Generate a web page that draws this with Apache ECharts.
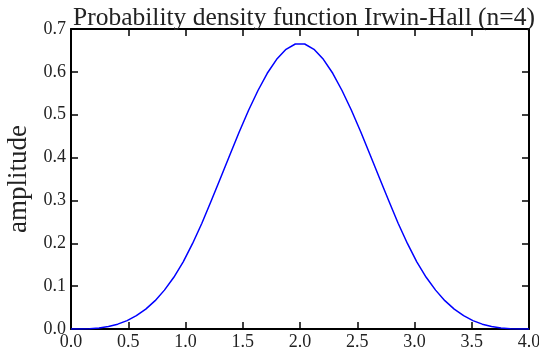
<!DOCTYPE html>
<html>
<head>
<meta charset="utf-8">
<script src="https://cdn.jsdelivr.net/npm/echarts@6/dist/echarts.min.js"></script>
<style>html,body{margin:0;padding:0;background:#fff}#c{width:539px;height:361px}</style>
</head>
<body>
<div id="c"></div>
<script>
var xValues = [0, 0.082, 0.163, 0.245, 0.327, 0.408, 0.490, 0.571, 0.653, 0.735, 0.816, 0.898, 0.980,
  1.061, 1.143, 1.224, 1.306, 1.388, 1.469, 1.551, 1.633, 1.714, 1.796, 1.878, 1.959,
  2.041, 2.122, 2.204, 2.286, 2.367, 2.449, 2.531, 2.612, 2.694, 2.776, 2.857, 2.939,
  3.020, 3.102, 3.184, 3.265, 3.347, 3.429, 3.510, 3.592, 3.673, 3.755, 3.837, 3.918, 4.0];
var amplitude = [0, 0.0001, 0.0007, 0.0024, 0.0058, 0.0113, 0.0196, 0.0311, 0.0464, 0.0661, 0.0907, 0.1207, 0.1567,
  0.1990, 0.2468, 0.2985, 0.3522, 0.4066, 0.4598, 0.5103, 0.5565, 0.5967, 0.6293, 0.6526, 0.6650,
  0.6650, 0.6526, 0.6293, 0.5967, 0.5565, 0.5103, 0.4598, 0.4066, 0.3522, 0.2985, 0.2468, 0.1990,
  0.1567, 0.1207, 0.0907, 0.0661, 0.0464, 0.0311, 0.0196, 0.0113, 0.0058, 0.0024, 0.0007, 0.0001, 0];
var xTicks = [0.0, 0.5, 1.0, 1.5, 2.0, 2.5, 3.0, 3.5, 4.0];
var yTicks = [0.0, 0.1, 0.2, 0.3, 0.4, 0.5, 0.6, 0.7];
var titleText = 'Probability density function Irwin-Hall (n=4)';
var yName = 'amplitude';

var FONT = 'Liberation Serif';
var INK = '#000';
var chart = echarts.init(document.getElementById('c'), null, {renderer: 'canvas'});
var pts = xValues.map(function (x, i) { return [x, amplitude[i]]; });
function axisBase(pos, showLabel) {
  return {
    type: 'value', position: pos,
    axisLine: {show: true, onZero: false, lineStyle: {color: INK, width: 2}},
    axisTick: {show: true, inside: true, length: 7, lineStyle: {color: INK, width: 1.5}},
    splitLine: {show: false},
    axisLabel: {show: showLabel, color: '#222', fontFamily: FONT, fontSize: 18,
      formatter: function (v) { return v.toFixed(1); }}
  };
}
var xb = axisBase('bottom', true);
xb.min = xTicks[0]; xb.max = xTicks[xTicks.length - 1]; xb.interval = 0.5; xb.axisLabel.margin = 4;
var xt = axisBase('top', false);
xt.min = xTicks[0]; xt.max = xTicks[xTicks.length - 1]; xt.interval = 0.5;
var yl = axisBase('left', true);
yl.min = yTicks[0]; yl.max = yTicks[yTicks.length - 1]; yl.interval = 0.1; yl.axisLabel.margin = 5;
yl.name = yName; yl.nameLocation = 'middle'; yl.nameGap = 38;
yl.nameTextStyle = {fontFamily: FONT, fontSize: 27, color: '#222'};
var yr = axisBase('right', false);
yr.min = yTicks[0]; yr.max = yTicks[yTicks.length - 1]; yr.interval = 0.1;

chart.setOption({
  animation: false,
  backgroundColor: '#fff',
  title: {text: titleText, left: 299, top: 0, textAlign: 'center',
    textStyle: {fontFamily: FONT, fontSize: 25.5, fontWeight: 'normal', color: '#222'}},
  grid: {left: 71, right: 10, top: 29, bottom: 32, containLabel: false, outerBoundsMode: 'none'},
  xAxis: [xb, xt],
  yAxis: [yl, yr],
  series: [{type: 'line', xAxisIndex: 0, yAxisIndex: 0, data: pts, showSymbol: false, smooth: false,
    lineStyle: {color: '#0000ff', width: 1.5}}]
});
</script>
</body>
</html>
